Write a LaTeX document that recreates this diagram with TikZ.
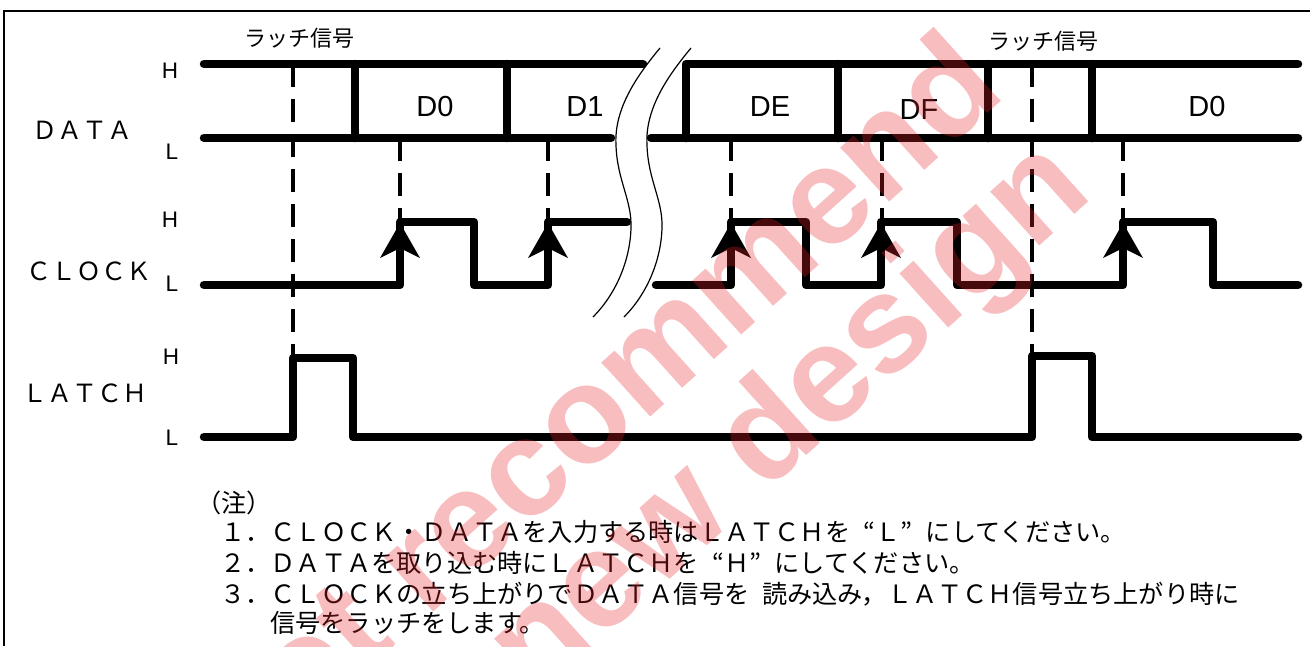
\documentclass[tikz,border=0pt]{standalone}
\usepackage{fontspec}
\setmainfont{Liberation Sans}
\newfontfamily\jp{Noto Sans CJK JP}
\usetikzlibrary{arrows.meta}
\definecolor{wmred}{RGB}{232,35,40}
\newcommand\jlq{\makebox[1em][r]{“}}
\newcommand\jrq{\makebox[1em][l]{”}}
\begin{document}
\begin{tikzpicture}[x=1pt,y=-1pt,
  sig/.style={line width=8.5pt, line join=round, line cap=round},
  guide/.style={line width=4.5pt, dash pattern=on 23pt off 12pt},
  brk/.style={line width=1.2pt},
  lvl/.style={font=\fontsize{22.5}{22.5}\selectfont, inner sep=0pt},
  dlab/.style={font=\fontsize{29}{29}\selectfont, inner sep=0pt},
  sname/.style={font=\jp\fontsize{25}{25}\selectfont, inner sep=0pt},
  ltag/.style={font=\jp\fontsize{22}{22}\selectfont, inner sep=0pt},
  note/.style={font=\jp\fontsize{25.2}{25.2}\selectfont, inner sep=0pt, anchor=west},
  wm/.style={font=\bfseries\fontsize{138}{138}\selectfont, text=wmred, text opacity=0.3, inner sep=0pt, rotate=42, anchor=base east},
]
\useasboundingbox (0,0) rectangle (1310,646);
% frame
\draw[line width=2.5pt] (4,646) -- (4,11) -- (1312,11);
% guide lines
\foreach \x in {400,548,731,882,1123} \draw[guide] (\x,138) -- (\x,222);
\draw[guide] (293,64) -- (293,358);
\draw[guide] (1032,64) -- (1032,356);
% DATA
\draw[sig] (204,64) -- (643,64);
\draw[sig] (204,138) -- (611,138);
\draw[sig] (355,64) -- (355,138);
\draw[sig] (507,64) -- (507,138);
\draw[sig] (686,138) -- (686,64) -- (1298,64);
\draw[sig] (651,138) -- (1298,138);
\foreach \x in {838,988,1092} \draw[sig] (\x,64) -- (\x,138);
% CLOCK
\draw[sig] (204,285) -- (400,285) -- (400,222) -- (474,222) -- (474,285) -- (548,285) -- (548,222) -- (627,222);
\draw[sig] (656,285) -- (731,285) -- (731,222) -- (806,222) -- (806,285) -- (881,285) -- (881,222) -- (957,222) -- (957,285) -- (1123,285) -- (1123,222) -- (1213,222) -- (1213,285) -- (1298,285);
\foreach \x in {400,548,731,881,1123} \fill (\x,223) -- (\x+20,258) -- (\x,248) -- (\x-20,258) -- cycle;
% LATCH
\draw[sig] (204,437) -- (293,437) -- (293,358) -- (353,358) -- (353,437) -- (1032,437) -- (1032,356) -- (1092,356) -- (1092,437) -- (1298,437);
% break
\fill[white] (660,48) .. controls (635,78) and (614,110) .. (616,145) .. controls (617,180) and (632,200) .. (631,228) .. controls (630,262) and (615,295) .. (593,317)
  -- (624,317) .. controls (646,295) and (661,262) .. (662,228) .. controls (663,200) and (648,180) .. (647,145) .. controls (645,110) and (666,78) .. (691,48) -- cycle;
\draw[brk] (660,48) .. controls (635,78) and (614,110) .. (616,145) .. controls (617,180) and (632,200) .. (631,228) .. controls (630,262) and (615,295) .. (593,317);
\draw[brk] (691,48) .. controls (666,78) and (645,110) .. (647,145) .. controls (648,180) and (663,200) .. (662,228) .. controls (661,262) and (646,295) .. (624,317);
% labels
\node[lvl] (dh) at (170,71) {H};
\node[lvl] (dl) at (172,152) {L};
\node[lvl] (ch) at (170,220) {H};
\node[lvl] (cl) at (172,284) {L};
\node[lvl] (lh) at (171,357) {H};
\node[lvl] (ll) at (172,438) {L};
\node[sname] (ndata) at (82,130) {ＤＡＴＡ};
\node[sname] (nclock) at (89,271) {ＣＬＯＣＫ};
\node[sname] (nlatch) at (85,393) {ＬＡＴＣＨ};
\node[ltag] (tag1) at (299,38) {ラッチ信号};
\node[ltag] (tag2) at (1043,41) {ラッチ信号};
\node[dlab] (d0) at (435,107) {D0};
\node[dlab] (d1) at (585,107) {D1};
\node[dlab] (de) at (770,107) {DE};
\node[dlab] (df) at (919,110) {DF};
\node[dlab] (d0b) at (1207,107) {D0};
% notes
\node[note] (n0) at (196,503) {（注）};
\node[note] (n1) at (220,532) {１．ＣＬＯＣＫ・ＤＡＴＡを入力する時はＬＡＴＣＨを\jlq Ｌ\jrq にしてください。};
\node[note] (n2) at (220,563) {２．ＤＡＴＡを取り込む時にＬＡＴＣＨを\jlq Ｈ\jrq にしてください。};
\node[note] (n3) at (220,594) {３．ＣＬＯＣＫの立ち上がりでＤＡＴＡ信号を\hspace{0.5em}読み込み，ＬＡＴＣＨ信号立ち上がり時に};
\node[note] (n4) at (270,623) {信号をラッチをします。};
% watermark
\begin{scope}
\clip (0,0) rectangle (1310,646);
\node[wm] (wm1) at (1008,95) {Not recommend};
\node[wm] (wm2) at (1095,196) {for new design};
\end{scope}
\end{tikzpicture}
\end{document}
